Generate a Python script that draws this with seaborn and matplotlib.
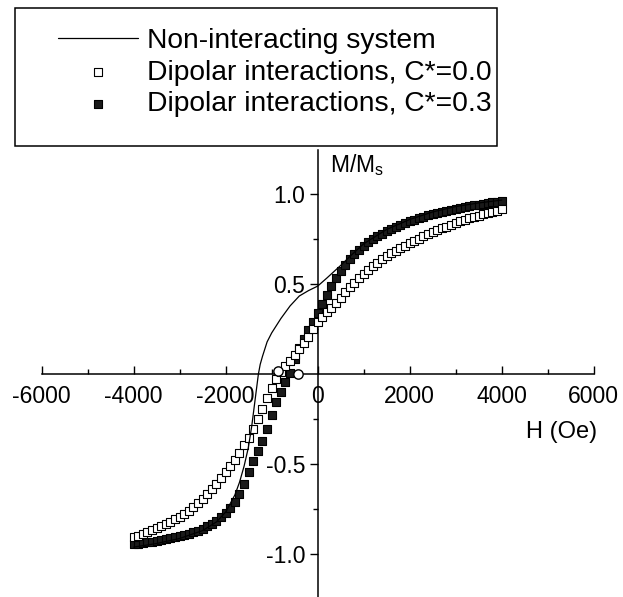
import numpy as np
import pandas as pd
import matplotlib
matplotlib.use("Agg")
import matplotlib.pyplot as plt
from matplotlib.patches import Rectangle
from matplotlib.ticker import MultipleLocator, FixedLocator
import seaborn as sns

# ---------------- data ----------------
# field grid for the simulated points (Oe)
H_pts = [-4000, -3900, -3800, -3700, -3600, -3500, -3400, -3300, -3200, -3100,
         -3000, -2900, -2800, -2700, -2600, -2500, -2400, -2300, -2200, -2100,
         -2000, -1900, -1800, -1700, -1600, -1500, -1400, -1300, -1200, -1100,
         -1000, -900, -800, -700, -600, -500, -400, -300, -200, -100,
         0, 100, 200, 300, 400, 500, 600, 700, 800, 900,
         1000, 1100, 1200, 1300, 1400, 1500, 1600, 1700, 1800, 1900,
         2000, 2100, 2200, 2300, 2400, 2500, 2600, 2700, 2800, 2900,
         3000, 3100, 3200, 3300, 3400, 3500, 3600, 3700, 3800, 3900, 4000]

# Dipolar interactions, C*=0.0 (open squares)
M_c00 = [-0.905, -0.897, -0.888, -0.878, -0.867, -0.855, -0.843, -0.831, -0.818, -0.804,
         -0.790, -0.775, -0.758, -0.738, -0.715, -0.690, -0.664, -0.636, -0.607, -0.577,
         -0.545, -0.510, -0.478, -0.438, -0.395, -0.355, -0.305, -0.250, -0.190, -0.130,
         -0.075, -0.025, 0.015, 0.045, 0.075, 0.105, 0.140, 0.175, 0.210, 0.250,
         0.290, 0.320, 0.345, 0.370, 0.395, 0.425, 0.455, 0.485, 0.510, 0.535,
         0.558, 0.580, 0.600, 0.620, 0.640, 0.656, 0.672, 0.687, 0.701, 0.715,
         0.728, 0.741, 0.754, 0.766, 0.778, 0.789, 0.800, 0.811, 0.821, 0.831,
         0.840, 0.849, 0.858, 0.866, 0.874, 0.882, 0.889, 0.896, 0.903, 0.910, 0.917]

# Dipolar interactions, C*=0.3 (filled squares)
M_c03 = [-0.945, -0.942, -0.938, -0.934, -0.930, -0.925, -0.920, -0.915, -0.910, -0.904,
         -0.898, -0.892, -0.885, -0.877, -0.868, -0.857, -0.845, -0.831, -0.815, -0.793,
         -0.770, -0.743, -0.710, -0.665, -0.610, -0.545, -0.480, -0.425, -0.370, -0.305,
         -0.225, -0.155, -0.100, -0.045, 0.005, 0.085, 0.145, 0.195, 0.245, 0.290,
         0.340, 0.390, 0.440, 0.490, 0.535, 0.575, 0.610, 0.640, 0.668, 0.692,
         0.714, 0.734, 0.752, 0.767, 0.781, 0.794, 0.806, 0.818, 0.829, 0.839,
         0.849, 0.858, 0.867, 0.875, 0.883, 0.890, 0.897, 0.903, 0.909, 0.915,
         0.920, 0.925, 0.930, 0.935, 0.939, 0.943, 0.947, 0.951, 0.955, 0.958, 0.961]

# Non-interacting system (solid line, descending branch)
H_line = [4000, 3500, 3000, 2500, 2000, 1500, 1000, 700, 500, 350, 200, 0,
          -200, -400, -600, -800, -1000, -1100, -1200, -1250, -1290, -1330,
          -1370, -1435, -1510, -1600, -1700, -1800, -2000, -2200, -2500,
          -3000, -3500, -4000]
M_line = [0.968, 0.952, 0.932, 0.902, 0.860, 0.805, 0.725, 0.655, 0.605, 0.570, 0.535, 0.490,
          0.465, 0.435, 0.380, 0.310, 0.230, 0.180, 0.100, 0.055, 0.000, -0.080,
          -0.160, -0.290, -0.410, -0.510, -0.600, -0.670, -0.765, -0.820, -0.868,
          -0.912, -0.940, -0.960]

# circled points near the zero crossings
H_circ = [-860, -420]
M_circ = [0.02, 0.0]

labels = ["Non-interacting system",
          "Dipolar interactions, C*=0.0",
          "Dipolar interactions, C*=0.3"]

x_ticks = [-6000, -4000, -2000, 0, 2000, 4000, 6000]
y_ticks = [-1.0, -0.5, 0.5, 1.0]
y_ticklabels = ["-1.0", "-0.5", "0.5", "1.0"]

# ---------------- style ----------------
sns.set_style("ticks")
plt.rcParams['font.family'] = ['Liberation Sans', 'DejaVu Sans']
plt.rcParams['axes.unicode_minus'] = False
plt.rcParams['mathtext.fontset'] = 'custom'
plt.rcParams['mathtext.rm'] = 'Liberation Sans'
plt.rcParams['text.color'] = 'black'
plt.rcParams['xtick.color'] = 'black'
plt.rcParams['ytick.color'] = 'black'
plt.rcParams['xtick.labelcolor'] = 'black'
plt.rcParams['ytick.labelcolor'] = 'black'

W, Hh = 623, 597
fig = plt.figure(figsize=(W / 100, Hh / 100), dpi=100)
x0 = 317.7 - 6000 * 0.046
ax = fig.add_axes([x0 / W, 0.0, (12000 * 0.046) / W, 447 / Hh])
ax.set_facecolor("white")

df_pts = pd.DataFrame({"H": H_pts, "M00": M_c00, "M03": M_c03})
df_line = pd.DataFrame({"H": H_line, "M": M_line})
df_circ = pd.DataFrame({"H": H_circ, "M": M_circ})

sns.scatterplot(data=df_pts, x="H", y="M03", marker="s", s=38, color="0.1",
                edgecolor="black", linewidth=0.8, ax=ax, label=labels[2], zorder=3)
sns.scatterplot(data=df_pts, x="H", y="M00", marker="s", s=38, color="white",
                edgecolor="black", linewidth=0.8, ax=ax, label=labels[1], zorder=4)
sns.lineplot(data=df_line, x="H", y="M", sort=False, estimator=None, color="black",
             linewidth=0.9, ax=ax, label=labels[0], zorder=5)
sns.scatterplot(data=df_circ, x="H", y="M", marker="o", s=45, color="white",
                edgecolor="black", linewidth=1.0, ax=ax, zorder=6, legend=False)

ax.set_xlim(-6000, 6000)
ax.set_ylim((374.3 - 597) / 180, (374.3 - 150) / 180)

for side in ("top", "right"):
    ax.spines[side].set_visible(False)
ax.spines["left"].set_position(("data", 0))
ax.spines["bottom"].set_position(("data", 0))
for side in ("left", "bottom"):
    ax.spines[side].set_linewidth(1.1)
    ax.spines[side].set_color("black")

ax.xaxis.set_major_locator(FixedLocator(x_ticks))
ax.set_xticklabels([str(v) for v in x_ticks])
ax.xaxis.set_minor_locator(MultipleLocator(1000))
ax.set_yticks(y_ticks)
ax.set_yticklabels(y_ticklabels)
ax.yaxis.set_minor_locator(FixedLocator([-1.25, -0.75, -0.25, 0.25, 0.75]))

ax.tick_params(axis="x", which="major", direction="in", length=6, width=1.0,
               labelsize=16.5, pad=8, colors="black")
ax.tick_params(axis="x", which="minor", direction="in", length=3.5, width=1.0)
ax.tick_params(axis="y", which="major", direction="out", length=6, width=1.0,
               labelsize=16.5, pad=3, colors="black")
ax.tick_params(axis="y", which="minor", direction="out", length=3.5, width=1.0)
ax.set_xlabel("")
ax.set_ylabel("")

fig.text(330 / W, 1 - 165 / Hh, r"M/M$_\mathregular{s}$", fontsize=16.5,
         ha="left", va="center", color="black")
fig.text(597 / W, 1 - 432 / Hh, "H (Oe)", fontsize=17, ha="right", va="center",
         color="black")

# legend
handles, labs = ax.get_legend_handles_labels()
order = [labs.index(l) for l in labels]
leg = ax.get_legend()
if leg is not None:
    leg.remove()
fig.legend([handles[i] for i in order], [labs[i] for i in order],
           loc="upper left", bbox_to_anchor=(58 / W, 1 - 28 / Hh),
           frameon=False, fontsize=20.3, handlelength=2.85, handletextpad=0.3,
           labelspacing=0.2, borderpad=0, borderaxespad=0, markerscale=1.05,
           labelcolor="black")
fig.patches.append(Rectangle((15 / W, 1 - 146 / Hh), 482 / W, 138 / Hh,
                             transform=fig.transFigure, fill=False,
                             edgecolor="black", linewidth=1.1))

fig.savefig("out.png", dpi=100)
